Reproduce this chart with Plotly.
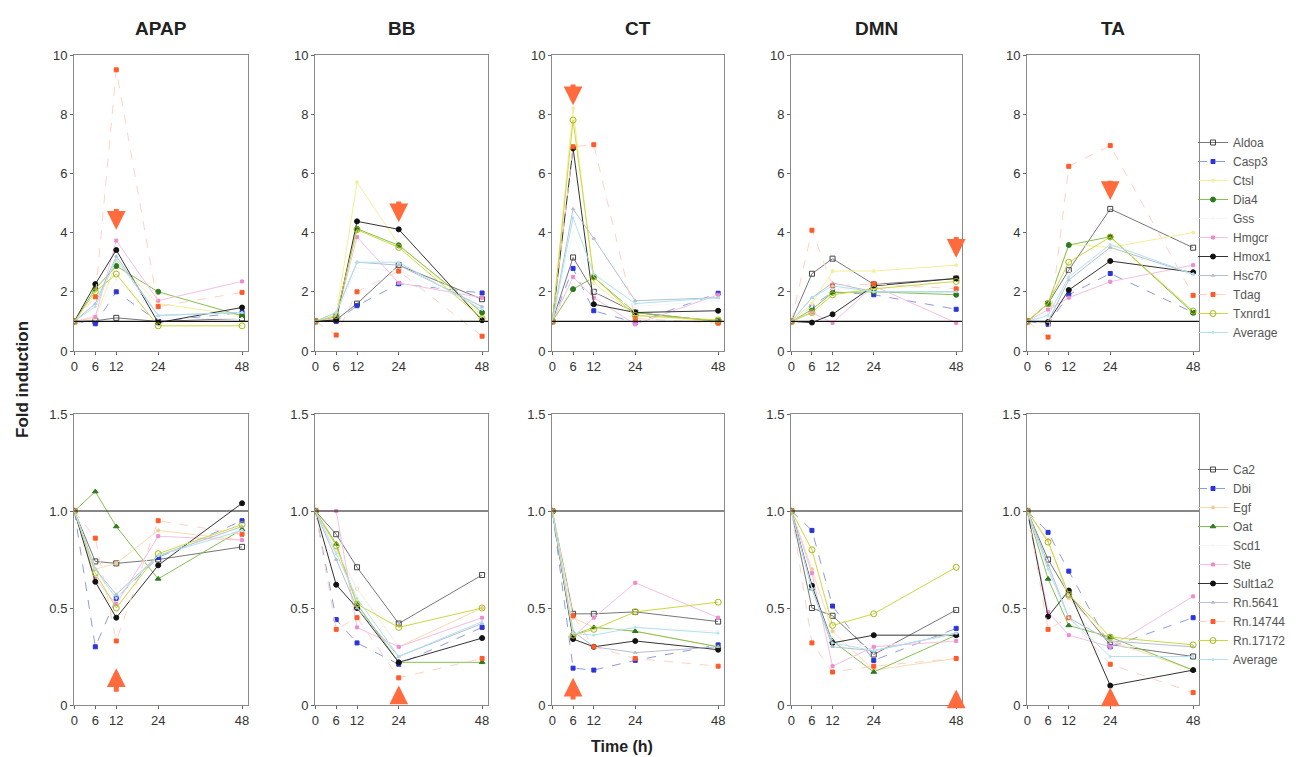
import plotly.graph_objects as go
from plotly.subplots import make_subplots

time = [0, 6, 12, 24, 48]
drugs = ["APAP", "BB", "CT", "DMN", "TA"]
up_genes = ["Aldoa", "Casp3", "Ctsl", "Dia4", "Gss", "Hmgcr", "Hmox1", "Hsc70", "Tdag", "Txnrd1", "Average"]
down_genes = ["Ca2", "Dbi", "Egf", "Oat", "Scd1", "Ste", "Sult1a2", "Rn.5641", "Rn.14744", "Rn.17172", "Average"]

# ---- up-regulated genes (fold induction at 0, 6, 12, 24, 48 h) ----
apap_up = {
    "Aldoa": [1, 1.02, 1.12, 1.0, 1.1], "Casp3": [1, 0.92, 2.0, 1.0, 1.3],
    "Ctsl": [1, 1.1, 3.0, 1.6, 1.2], "Dia4": [1, 2.1, 2.87, 2.0, 1.19],
    "Gss": [1, 1.2, 2.4, 1.1, 1.1], "Hmgcr": [1, 1.15, 3.73, 1.7, 2.35],
    "Hmox1": [1, 2.26, 3.41, 0.96, 1.47], "Hsc70": [1, 1.6, 3.2, 1.2, 1.3],
    "Tdag": [1, 1.83, 9.5, 1.5, 1.98], "Txnrd1": [1, 2.0, 2.6, 0.85, 0.85],
    "Average": [1, 1.5, 3.1, 1.2, 1.3],
}
bb_up = {
    "Aldoa": [1, 1.05, 1.6, 2.9, 1.75], "Casp3": [1, 1.0, 1.53, 2.27, 1.96],
    "Ctsl": [1, 1.2, 5.7, 3.6, 1.2], "Dia4": [1, 1.16, 4.13, 3.57, 1.3],
    "Gss": [1, 1.2, 2.8, 2.7, 1.5], "Hmgcr": [1, 1.1, 3.85, 2.3, 1.8],
    "Hmox1": [1, 1.05, 4.38, 4.11, 1.04], "Hsc70": [1, 1.3, 3.0, 2.9, 1.5],
    "Tdag": [1, 0.54, 2.0, 2.7, 0.5], "Txnrd1": [1, 1.2, 4.1, 3.5, 1.1],
    "Average": [1, 1.3, 3.0, 3.0, 1.4],
}
ct_up = {
    "Aldoa": [1, 3.16, 2.0, 1.3, 1.0], "Casp3": [1, 2.79, 1.36, 0.96, 1.95],
    "Ctsl": [1, 8.2, 2.3, 1.2, 1.0], "Dia4": [1, 2.09, 2.49, 1.3, 1.0],
    "Gss": [1, 4.0, 2.0, 1.5, 1.7], "Hmgcr": [1, 2.5, 1.8, 0.9, 1.9],
    "Hmox1": [1, 6.85, 1.58, 1.3, 1.36], "Hsc70": [1, 4.8, 3.8, 1.7, 1.8],
    "Tdag": [1, 6.9, 6.97, 1.1, 0.94], "Txnrd1": [1, 7.8, 2.5, 1.2, 1.05],
    "Average": [1, 4.5, 2.6, 1.6, 1.8],
}
dmn_up = {
    "Aldoa": [1, 2.61, 3.12, 2.25, 2.45], "Casp3": [1, 1.5, 2.0, 1.9, 1.41],
    "Ctsl": [1, 1.6, 2.7, 2.7, 2.9], "Dia4": [1, 1.4, 1.97, 2.0, 1.9],
    "Gss": [1, 1.5, 2.1, 2.1, 2.2], "Hmgcr": [1, 1.3, 0.95, 2.2, 0.95],
    "Hmox1": [1, 0.96, 1.24, 2.2, 2.45], "Hsc70": [1, 1.8, 2.3, 2.0, 2.0],
    "Tdag": [1, 4.08, 2.2, 2.27, 2.1], "Txnrd1": [1, 1.3, 1.9, 2.1, 2.35],
    "Average": [1, 1.8, 2.2, 2.0, 2.0],
}
ta_up = {
    "Aldoa": [1, 1.6, 2.73, 4.8, 3.49], "Casp3": [1, 0.9, 1.9, 2.62, 1.3],
    "Ctsl": [1, 1.6, 3.6, 3.5, 4.0], "Dia4": [1, 1.6, 3.58, 3.86, 1.29],
    "Gss": [1, 1.3, 2.6, 3.4, 2.6], "Hmgcr": [1, 1.4, 1.8, 2.34, 2.9],
    "Hmox1": [1, 0.98, 2.06, 3.04, 2.66], "Hsc70": [1, 1.0, 2.4, 3.5, 2.6],
    "Tdag": [1, 0.47, 6.24, 6.94, 1.88], "Txnrd1": [1, 1.6, 3.0, 3.85, 1.35],
    "Average": [1, 1.2, 2.5, 3.6, 2.6],
}

# ---- down-regulated genes ----
apap_down = {
    "Ca2": [1, 0.74, 0.73, 0.75, 0.815], "Dbi": [1, 0.30, 0.55, 0.76, 0.95],
    "Egf": [1, 0.7, 0.73, 0.9, 0.85], "Oat": [1, 1.10, 0.92, 0.65, 0.905],
    "Scd1": [1, 0.7, 0.6, 0.8, 0.9], "Ste": [1, 0.65, 0.52, 0.87, 0.85],
    "Sult1a2": [1, 0.635, 0.45, 0.72, 1.04], "Rn.5641": [1, 0.7, 0.57, 0.77, 0.92],
    "Rn.14744": [1, 0.86, 0.33, 0.95, 0.88], "Rn.17172": [1, 0.68, 0.50, 0.78, 0.93],
    "Average": [1, 0.7, 0.55, 0.77, 0.9],
}
bb_down = {
    "Ca2": [1, 0.88, 0.71, 0.42, 0.67], "Dbi": [1, 0.44, 0.32, 0.21, 0.40],
    "Egf": [1, 0.8, 0.6, 0.3, 0.5], "Oat": [1, 0.83, 0.52, 0.22, 0.22],
    "Scd1": [1, 0.8, 0.6, 0.3, 0.45], "Ste": [1, 1.0, 0.4, 0.3, 0.45],
    "Sult1a2": [1, 0.62, 0.5, 0.22, 0.345], "Rn.5641": [1, 0.75, 0.5, 0.25, 0.42],
    "Rn.14744": [1, 0.39, 0.45, 0.14, 0.24], "Rn.17172": [1, 0.82, 0.52, 0.40, 0.50],
    "Average": [1, 0.78, 0.55, 0.25, 0.43],
}
ct_down = {
    "Ca2": [1, 0.47, 0.47, 0.48, 0.43], "Dbi": [1, 0.19, 0.18, 0.23, 0.31],
    "Egf": [1, 0.45, 0.4, 0.38, 0.3], "Oat": [1, 0.36, 0.4, 0.38, 0.3],
    "Scd1": [1, 0.4, 0.38, 0.4, 0.38], "Ste": [1, 0.35, 0.45, 0.63, 0.45],
    "Sult1a2": [1, 0.34, 0.30, 0.33, 0.285], "Rn.5641": [1, 0.38, 0.3, 0.27, 0.3],
    "Rn.14744": [1, 0.46, 0.30, 0.24, 0.2], "Rn.17172": [1, 0.36, 0.39, 0.48, 0.53],
    "Average": [1, 0.37, 0.36, 0.40, 0.37],
}
dmn_down = {
    "Ca2": [1, 0.50, 0.46, 0.26, 0.49], "Dbi": [1, 0.90, 0.51, 0.23, 0.395],
    "Egf": [1, 0.7, 0.38, 0.18, 0.24], "Oat": [1, 0.6, 0.33, 0.17, 0.36],
    "Scd1": [1, 0.6, 0.33, 0.3, 0.36], "Ste": [1, 0.68, 0.2, 0.3, 0.33],
    "Sult1a2": [1, 0.615, 0.32, 0.36, 0.36], "Rn.5641": [1, 0.6, 0.3, 0.28, 0.37],
    "Rn.14744": [1, 0.32, 0.17, 0.2, 0.24], "Rn.17172": [1, 0.80, 0.41, 0.47, 0.71],
    "Average": [1, 0.6, 0.32, 0.28, 0.37],
}
ta_down = {
    "Ca2": [1, 0.75, 0.57, 0.31, 0.25], "Dbi": [1, 0.89, 0.69, 0.3, 0.45],
    "Egf": [1, 0.85, 0.55, 0.33, 0.18], "Oat": [1, 0.65, 0.41, 0.35, 0.18],
    "Scd1": [1, 0.7, 0.5, 0.3, 0.3], "Ste": [1, 0.48, 0.36, 0.3, 0.56],
    "Sult1a2": [1, 0.456, 0.59, 0.10, 0.18], "Rn.5641": [1, 0.72, 0.45, 0.33, 0.3],
    "Rn.14744": [1, 0.39, 0.45, 0.21, 0.064], "Rn.17172": [1, 0.84, 0.57, 0.35, 0.31],
    "Average": [1, 0.7, 0.45, 0.25, 0.25],
}

up_data = [apap_up, bb_up, ct_up, dmn_up, ta_up]
down_data = [apap_down, bb_down, ct_down, dmn_down, ta_down]

# arrows: time point of maximal response and (tip, tail) levels
arrow_time = [12, 24, 6, 48, 24]
up_arrow_tip = [4.1, 4.35, 8.3, 3.15, 5.1]
up_arrow_tail = [4.85, 5.1, 9.05, 3.9, 5.8]
down_arrow_tip = [0.19, 0.1, 0.14, 0.08, 0.09]
down_arrow_tail = [0.06, 0.0, 0.02, 0.0, 0.0]

# ---- styles ----
def st(lc, mc, sym, ms=5, lw=1, dash="solid"):
    return dict(line=dict(color=lc, width=lw, dash=dash),
                marker=dict(color=mc, symbol=sym, size=ms,
                            line=dict(color=mc, width=1)))

up_style = {
    "Aldoa": st("#777777", "#444444", "square-open", 5),
    "Casp3": st("#8f9cdc", "#2a35d8", "square", 4, dash="dash"),
    "Ctsl": st("#f4ef9a", "#f4ef9a", "circle", 3),
    "Dia4": st("#86c050", "#2d7a1e", "circle", 5),
    "Gss": st("#f6f6f6", "#f6f6f6", "circle", 2),
    "Hmgcr": st("#f5c0e2", "#f08ad0", "square", 3),
    "Hmox1": st("#333333", "#111111", "circle", 5),
    "Hsc70": st("#b4bfd2", "#b4bfd2", "triangle-up", 3),
    "Tdag": st("#ffd2c4", "#ff5a2a", "square", 4, dash="dash"),
    "Txnrd1": st("#ccd840", "#a8b81a", "circle-open", 6),
    "Average": st("#b0e2f2", "#b0e2f2", "circle", 2),
}
down_style = {
    "Ca2": st("#777777", "#444444", "square-open", 5),
    "Dbi": st("#8f9cdc", "#2a35d8", "square", 4, dash="dash"),
    "Egf": st("#f8dcb0", "#f7c890", "circle", 3),
    "Oat": st("#86c050", "#2d7a1e", "triangle-up", 5),
    "Scd1": st("#f6f6f6", "#f6f6f6", "circle", 2),
    "Ste": st("#f5c0e2", "#f08ad0", "square", 3),
    "Sult1a2": st("#333333", "#111111", "circle", 5),
    "Rn.5641": st("#b4bfd2", "#b4bfd2", "triangle-up", 3),
    "Rn.14744": st("#ffd2c4", "#ff5a2a", "square", 4, dash="dash"),
    "Rn.17172": st("#ccd840", "#a8b81a", "circle-open", 6),
    "Average": st("#b0e2f2", "#b0e2f2", "circle", 2),
}

# figure drawn at the page's 8px body offset; pixel helpers map window px -> paper
W, H = 1300, 757
OX, OY = 8, 8
def px(X):
    return (X - OX) / W
def py(Y):
    return 1 - (Y - OY) / H

col_px = [(74, 248), (315, 488), (552, 724), (791, 962), (1027, 1199)]
row_px = [(55, 351), (414, 705)]

fig = make_subplots(rows=2, cols=5)

FONT = "Liberation Sans, Arial, sans-serif"
for r in range(2):
    data = up_data if r == 0 else down_data
    genes = up_genes if r == 0 else down_genes
    style = up_style if r == 0 else down_style
    for c in range(5):
        for g in genes:
            s = style[g]
            fig.add_trace(go.Scatter(
                x=time, y=data[c][g], name=g, mode="lines+markers",
                line=s["line"], marker=s["marker"],
                showlegend=(c == 0), legend=("legend" if r == 0 else "legend2"),
            ), row=r + 1, col=c + 1)
        fig.add_hline(y=1, line=dict(color="#111111", width=1.2), row=r + 1, col=c + 1)
        x0, x1 = col_px[c]
        y0, y1 = row_px[r]
        fig.update_xaxes(domain=[px(x0), px(x1)], range=[-0.1, 49.7],
                         tickvals=time, ticktext=[str(t) for t in time],
                         row=r + 1, col=c + 1)
        if r == 0:
            fig.update_yaxes(range=[0, 10], tickvals=[0, 2, 4, 6, 8, 10],
                             ticktext=["0", "2", "4", "6", "8", "10"], row=1, col=c + 1)
        else:
            fig.update_yaxes(range=[0, 1.5], tickvals=[0, 0.5, 1.0, 1.5],
                             ticktext=["0", "0.5", "1.0", "1.5"], row=2, col=c + 1)
        fig.update_yaxes(domain=[py(y1), py(y0)], row=r + 1, col=c + 1)

        # arrows
        idx = r * 5 + c + 1
        xr = "x" if idx == 1 else f"x{idx}"
        yr = "y" if idx == 1 else f"y{idx}"
        tip = up_arrow_tip[c] if r == 0 else down_arrow_tip[c]
        tail = up_arrow_tail[c] if r == 0 else down_arrow_tail[c]
        fig.add_annotation(x=arrow_time[c], y=tip, ax=arrow_time[c], ay=tail,
                           xref=xr, yref=yr, axref=xr, ayref=yr, text="",
                           showarrow=True, arrowhead=2, arrowsize=0.75,
                           arrowwidth=5, arrowcolor="#ff6b3d")

fig.update_xaxes(showgrid=False, zeroline=False, showline=True, mirror=True,
                 linecolor="#8a8a8a", linewidth=1, ticks="outside", ticklen=3,
                 tickcolor="#666", tickfont=dict(size=13, color="#333", family=FONT))
fig.update_yaxes(showgrid=False, zeroline=False, showline=True, mirror=True,
                 linecolor="#8a8a8a", linewidth=1, ticks="outside", ticklen=3,
                 tickcolor="#666", tickfont=dict(size=13, color="#333", family=FONT))

for c, d in enumerate(drugs):
    x0, x1 = col_px[c]
    fig.add_annotation(text=f"<b>{d}</b>", x=px((x0 + x1) / 2), y=py(28),
                       xref="paper", yref="paper", showarrow=False,
                       xanchor="center", yanchor="middle",
                       font=dict(size=19, color="#222", family=FONT))

fig.add_annotation(text="<b>Fold induction</b>", x=px(22), y=py(380), xref="paper",
                   yref="paper", showarrow=False, textangle=-90,
                   xanchor="center", yanchor="middle",
                   font=dict(size=17, color="#222", family=FONT))
fig.add_annotation(text="<b>Time (h)</b>", x=px(622), y=py(746), xref="paper",
                   yref="paper", showarrow=False, xanchor="center", yanchor="middle",
                   font=dict(size=16, color="#222", family=FONT))

leg = dict(xanchor="left", yanchor="top", bgcolor="rgba(0,0,0,0)",
           font=dict(size=12, color="#555", family=FONT), tracegroupgap=0,
           itemwidth=30)
fig.update_layout(
    width=W, height=H, margin=dict(l=0, r=0, t=0, b=0, autoexpand=False),
    paper_bgcolor="white", plot_bgcolor="white",
    legend=dict(x=px(1193), y=py(128), **leg),
    legend2=dict(x=px(1193), y=py(455), **leg),
    font=dict(family=FONT),
)

fig.write_html("out.html")
